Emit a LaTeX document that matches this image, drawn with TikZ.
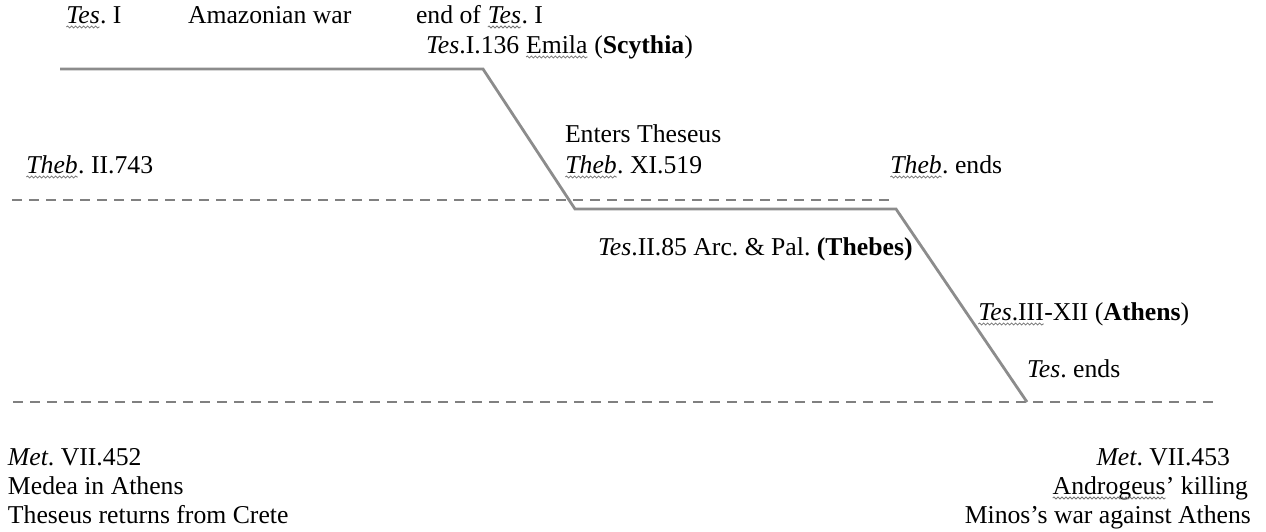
\documentclass[tikz,border=0pt]{standalone}
\usepackage{fontspec}
\setmainfont{Liberation Serif}
\usetikzlibrary{decorations.pathmorphing}
\tikzset{
  story/.style={draw=black!45, line width=2.8pt, line join=miter},
  level/.style={draw=black!50, line width=2.4pt, dash pattern=on 10pt off 7pt},
  lbl/.style={inner sep=0pt, outer sep=0pt, font=\fontsize{25.7}{29.6}\selectfont},
  squig/.style={draw=black!55, line width=0.8pt, decorate,
    decoration={snake, amplitude=1pt, segment length=4pt}}
}
% word with a wavy underline
\newcommand\wavy[1]{\tikz[baseline=(wv.base)]{\node[inner sep=0pt,outer sep=0pt](wv){#1};\draw[squig]([yshift=-4pt]wv.base west)--([yshift=-4pt]wv.base east);}}
\frenchspacing
\begin{document}
\begin{tikzpicture}[x=1pt,y=-1pt]
\useasboundingbox (0,0) rectangle (1266,531);

% reference levels
\coordinate (d1a) at (12,200);
\coordinate (d1b) at (892,200);
\coordinate (d2a) at (13,402);
\coordinate (d2b) at (1217,402);
\draw[level] (d1a) -- (d1b);
\draw[level] (d2a) -- (d2b);

% narrative line
\coordinate (t0) at (60,69);
\coordinate (t1) at (483,69);
\coordinate (t2) at (575,209);
\coordinate (t3) at (896,209);
\coordinate (t4) at (1027,402);
\draw[story] (t0) -- (t1) -- (t2) -- (t3) -- (t4);

% labels
\node[lbl, anchor=base west] (tesI) at (66,23) {\wavy{\textit{Tes}}. I};
\node[lbl, anchor=base west] (amaz) at (188,23) {Amazonian war};
\node[lbl, anchor=base west] (endI) at (416,23) {end of \wavy{\textit{Tes}}. I};
\node[lbl, anchor=base west] (emila) at (426,53) {\textit{Tes}.I.136 \wavy{Emila} (\textbf{Scythia})};
\node[lbl, anchor=base west] (enters) at (565,142) {Enters Theseus};
\node[lbl, anchor=base west] (thebXI) at (565,173) {\wavy{\textit{Theb}}. XI.519};
\node[lbl, anchor=base west] (thebII) at (26,173) {\wavy{\textit{Theb}}. II.743};
\node[lbl, anchor=base west] (thebend) at (890,173) {\wavy{\textit{Theb}}. ends};
\node[lbl, anchor=base west] (thebes) at (598,255) {\textit{Tes}.II.85 Arc. \& Pal. \textbf{(Thebes)}};
\node[lbl, anchor=base west] (athens) at (978,320) {\wavy{\textit{Tes}.III}-XII (\textbf{Athens})};
\node[lbl, anchor=base west] (tesend) at (1027,377) {\textit{Tes}. ends};

\node[lbl, anchor=base west] (met1) at (8,465) {\textit{Met}. VII.452};
\node[lbl, anchor=base west] (medea) at (8,494) {Medea in Athens};
\node[lbl, anchor=base west] (crete) at (8,523) {Theseus returns from Crete};

\node[lbl, anchor=base east] (met2) at (1230,465) {\textit{Met}. VII.453};
\node[lbl, anchor=base east] (andro) at (1248,494) {\wavy{Androgeus}’ killing};
\node[lbl, anchor=base east] (minos) at (1251,523) {Minos’s war against Athens};
\end{tikzpicture}
\end{document}
